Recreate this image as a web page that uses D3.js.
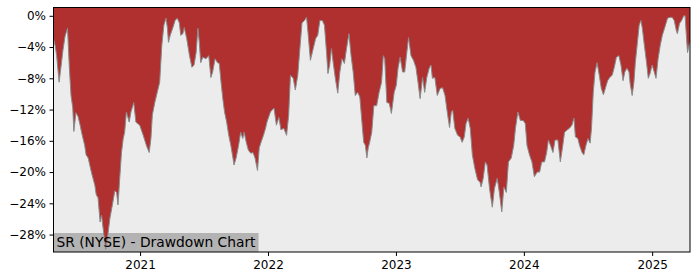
<!DOCTYPE html>
<html><head><meta charset="utf-8">
<script src="https://cdn.jsdelivr.net/npm/d3@7"></script>
<style>body{margin:0;background:#fff} svg{display:block}</style>
</head><body><svg id="c" width="700" height="280"></svg>
<script>
const title = "SR (NYSE) - Drawdown Chart";
const yTicks = [0, -4, -8, -12, -16, -20, -24, -28];
const xTickYears = [2021, 2022, 2023, 2024, 2025];

const dates = [
  // 2020
  "2020-04-29","2020-05-04","2020-05-08","2020-05-15","2020-05-21","2020-05-26","2020-06-01","2020-06-08","2020-06-13","2020-06-18",
  "2020-06-23","2020-06-26","2020-07-02","2020-07-08","2020-07-14","2020-07-18","2020-07-27","2020-07-31","2020-08-06","2020-08-15",
  "2020-08-25","2020-08-29","2020-09-03","2020-09-09","2020-09-13","2020-09-20","2020-09-25","2020-09-30","2020-10-07","2020-10-14",
  "2020-10-21","2020-10-26","2020-10-30","2020-11-04","2020-11-09","2020-11-14","2020-11-18","2020-11-23","2020-12-01","2020-12-06",
  "2020-12-14","2020-12-20","2020-12-31",
  // 2021
  "2021-01-10","2021-01-19","2021-01-27","2021-02-01","2021-02-05","2021-02-12","2021-02-19","2021-02-26","2021-03-04","2021-03-10",
  "2021-03-16","2021-03-20","2021-03-23","2021-03-28","2021-04-04","2021-04-11","2021-04-17","2021-04-23","2021-04-27","2021-05-03",
  "2021-05-07","2021-05-14","2021-05-22","2021-05-29","2021-06-04","2021-06-10","2021-06-15","2021-06-19","2021-06-23","2021-06-29",
  "2021-07-08","2021-07-16","2021-07-22","2021-07-27","2021-08-03","2021-08-10","2021-08-15","2021-08-20","2021-08-25","2021-08-30",
  "2021-09-05","2021-09-11","2021-09-17","2021-09-23","2021-09-26","2021-10-02","2021-10-09","2021-10-15","2021-10-21","2021-10-25",
  "2021-10-31","2021-11-06","2021-11-13","2021-11-19","2021-11-25","2021-12-02","2021-12-07","2021-12-12","2021-12-19","2021-12-25",
  "2021-12-29",
  // 2022
  "2022-01-08","2022-01-18","2022-01-25","2022-02-01","2022-02-07","2022-02-15","2022-02-23","2022-03-01","2022-03-06","2022-03-14",
  "2022-03-20","2022-03-27","2022-04-02","2022-04-08","2022-04-15","2022-04-21","2022-04-25","2022-05-02","2022-05-10","2022-05-17",
  "2022-05-23","2022-05-29","2022-06-05","2022-06-11","2022-06-17","2022-06-21","2022-06-26","2022-07-01","2022-07-06","2022-07-12",
  "2022-07-19","2022-07-25","2022-07-31","2022-08-07","2022-08-13","2022-08-20","2022-08-26","2022-09-01","2022-09-07","2022-09-14",
  "2022-09-20","2022-09-26","2022-10-01","2022-10-06","2022-10-10","2022-10-14","2022-10-18","2022-10-24","2022-10-30","2022-11-07",
  "2022-11-14","2022-11-21","2022-11-26","2022-11-30","2022-12-06","2022-12-13","2022-12-19","2022-12-27",
  // 2023
  "2023-01-02","2023-01-07","2023-01-13","2023-01-20","2023-01-26","2023-02-01","2023-02-06","2023-02-13","2023-02-20","2023-02-27",
  "2023-03-05","2023-03-11","2023-03-18","2023-03-24","2023-03-30","2023-04-06","2023-04-11","2023-04-15","2023-04-22","2023-04-29",
  "2023-05-07","2023-05-14","2023-05-21","2023-05-28","2023-06-03","2023-06-08","2023-06-12","2023-06-18","2023-06-26","2023-07-03",
  "2023-07-09","2023-07-15","2023-07-20","2023-07-26","2023-08-01","2023-08-07","2023-08-14","2023-08-22","2023-08-29","2023-09-01",
  "2023-09-07","2023-09-13","2023-09-18","2023-09-25","2023-10-03","2023-10-09","2023-10-17","2023-10-23","2023-10-30","2023-11-05",
  "2023-11-12","2023-11-18","2023-11-26","2023-12-03","2023-12-08","2023-12-15","2023-12-22","2023-12-30",
  // 2024
  "2024-01-05","2024-01-10","2024-01-17","2024-01-24","2024-01-31","2024-02-08","2024-02-15","2024-02-21","2024-02-29","2024-03-06",
  "2024-03-11","2024-03-17","2024-03-24","2024-03-30","2024-04-07","2024-04-14","2024-04-21","2024-04-26","2024-05-04","2024-05-10",
  "2024-05-17","2024-05-23","2024-05-27","2024-06-03","2024-06-08","2024-06-15","2024-06-20","2024-06-26","2024-07-02","2024-07-08",
  "2024-07-12","2024-07-17","2024-07-22","2024-07-28","2024-08-03","2024-08-09","2024-08-15","2024-08-21","2024-08-27","2024-09-02",
  "2024-09-09","2024-09-15","2024-09-21","2024-09-28","2024-10-04","2024-10-10","2024-10-15","2024-10-21","2024-10-27","2024-10-30",
  "2024-11-05","2024-11-10","2024-11-14","2024-11-20","2024-11-25","2024-11-30","2024-12-04","2024-12-09","2024-12-16","2024-12-21",
  "2024-12-26",
  // 2025
  "2025-01-01","2025-01-07","2025-01-12","2025-01-18","2025-01-24","2025-01-30","2025-02-06","2025-02-14","2025-02-21","2025-02-27",
  "2025-03-05","2025-03-11","2025-03-14","2025-03-20","2025-03-26","2025-04-01","2025-04-05","2025-04-08","2025-04-12","2025-04-16",
  "2025-04-19"
];

const drawdown = [
  // 2020
  -2.9, -3.9, -5.1, -8.5, -6.3, -4.4, -2.6, -1.6, -6.5, -10.2,
  -11.8, -14.8, -12.4, -12.9, -14.0, -14.9, -16.6, -17.8, -18.2, -20.0,
  -21.7, -22.9, -23.3, -26.4, -25.5, -28.1, -29.9, -28.4, -25.9, -24.2,
  -22.4, -22.6, -24.2, -20.8, -17.5, -15.7, -14.9, -12.3, -13.6, -12.3,
  -11.1, -13.6, -14.0,
  // 2021
  -15.3, -16.6, -17.5, -15.7, -12.7, -11.1, -9.8, -8.5, -3.8, -1.2,
  -0.3, -1.6, -3.4, -2.5, -1.6, -0.6, -0.3, -0.9, -2.5, -2.3,
  -1.5, -2.9, -5.1, -6.6, -6.3, -4.7, -1.6, -3.4, -6.0, -5.3,
  -5.5, -5.1, -7.9, -7.2, -5.5, -6.0, -6.1, -8.5, -10.6, -12.3,
  -13.6, -15.3, -16.6, -18.2, -19.1, -18.2, -16.6, -14.9, -15.7, -14.9,
  -16.2, -17.2, -17.6, -17.5, -18.2, -19.8, -16.9, -16.2, -15.3, -14.4,
  -13.6,
  // 2022
  -12.3, -11.8, -14.0, -13.0, -14.6, -14.4, -15.3, -12.7, -7.6, -8.0,
  -9.5, -7.6, -4.2, -0.9, -0.6, -0.2, -2.1, -5.7, -4.2, -2.9,
  -2.5, -0.6, -0.6, -1.2, -4.7, -7.4, -6.3, -4.2, -6.0, -8.0,
  -9.9, -7.2, -5.5, -6.1, -4.2, -2.3, -5.1, -7.2, -10.2, -9.8,
  -10.4, -13.6, -16.2, -16.6, -18.2, -16.9, -16.2, -14.9, -11.5, -11.5,
  -9.8, -8.5, -5.1, -5.5, -11.1, -11.2, -12.5, -9.8,
  // 2023
  -8.9, -6.7, -5.3, -7.2, -7.2, -4.7, -2.8, -5.1, -5.7, -6.6,
  -8.5, -10.6, -7.9, -9.8, -7.9, -6.7, -6.3, -8.0, -7.9, -10.2,
  -9.3, -9.2, -10.2, -12.5, -14.3, -12.3, -12.1, -14.4, -15.3, -15.5,
  -16.2, -15.5, -13.8, -13.1, -14.4, -17.8, -19.5, -21.0, -21.3, -21.9,
  -20.8, -18.7, -19.1, -22.1, -24.5, -22.1, -20.8, -22.6, -25.1, -21.9,
  -22.6, -18.7, -18.2, -16.6, -14.4, -12.3, -13.4, -13.4,
  // 2024
  -13.8, -16.6, -17.8, -18.7, -20.6, -20.0, -20.0, -18.7, -18.7, -17.5,
  -15.9, -16.6, -17.5, -15.9, -15.9, -18.7, -16.6, -14.9, -14.6, -14.4,
  -14.0, -13.1, -15.5, -15.7, -16.6, -17.5, -17.8, -16.6, -15.7, -16.3,
  -14.4, -9.8, -7.2, -6.0, -7.6, -9.3, -10.1, -9.2, -8.3, -7.9,
  -7.6, -6.6, -5.3, -5.1, -6.3, -8.3, -7.2, -6.7, -7.2, -8.6,
  -10.2, -8.5, -6.0, -3.4, -1.2, -0.6, -1.6, -3.5, -6.0, -8.0,
  -7.4,
  // 2025
  -6.3, -7.2, -8.0, -5.5, -3.8, -2.5, -1.5, -0.3, -0.2, -0.2,
  -0.6, -1.9, -2.3, -1.0, -0.6, 0.0, 0.0, -2.1, -4.7, -3.8,
  -3.2
];

const parse = d3.timeParse("%Y-%m-%d");
const data = dates.map((d, i) => ({ date: parse(d), v: drawdown[i] }));

const svg = d3.select("#c");
const L = 53.5, R = 690, T = 7.5, B = 252;
const font = "'DejaVu Sans', sans-serif";

const x = d3.scaleTime().domain(d3.extent(data, d => d.date)).range([L, R]);
const y = d3.scaleLinear().domain([-30.23, 1.06]).range([B, T]);

svg.append("rect").attr("x", L).attr("y", T).attr("width", R - L).attr("height", B - T).attr("fill", "#ececec");

// title box background (under the drawdown area)
const boxRect = svg.append("rect").attr("x", L).attr("y", 233).attr("height", B - 233).attr("fill", "#b3b3b3");

svg.append("path").datum(data)
  .attr("fill", "#b03030")
  .attr("d", d3.area().x(d => x(d.date)).y0(T).y1(d => y(d.v)));

svg.append("path").datum(data)
  .attr("fill", "none").attr("stroke", "#8a8a8a").attr("stroke-width", 1)
  .attr("d", d3.line().x(d => x(d.date)).y(d => y(d.v)));

const tt = svg.append("text").attr("x", L + 3).attr("y", 247.3)
  .attr("font-family", font).attr("font-size", "13.8px").attr("fill", "#000").text(title);
boxRect.attr("width", tt.node().getComputedTextLength() + 6);

// frame
svg.append("rect").attr("x", L).attr("y", T).attr("width", R - L).attr("height", B - T)
  .attr("fill", "none").attr("stroke", "#000").attr("stroke-width", 1);

const fmt = d => (d < 0 ? "\u2212" : "") + Math.abs(d) + "%";
const yAxis = svg.append("g").attr("transform", `translate(${L},0)`)
  .call(d3.axisLeft(y).tickValues(yTicks).tickSize(4).tickPadding(3.5).tickFormat(fmt));
const xAxis = svg.append("g").attr("transform", `translate(0,${B})`)
  .call(d3.axisBottom(x).tickValues(xTickYears.map(yr => new Date(yr, 0, 1))).tickSize(4).tickPadding(4).tickFormat(d3.timeFormat("%Y")));
[yAxis, xAxis].forEach(g => {
  g.select(".domain").remove();
  g.selectAll("text").attr("font-family", font).attr("font-size", "12px").attr("fill", "#000");
  g.selectAll("line").attr("stroke", "#000");
});
</script>
</body></html>
